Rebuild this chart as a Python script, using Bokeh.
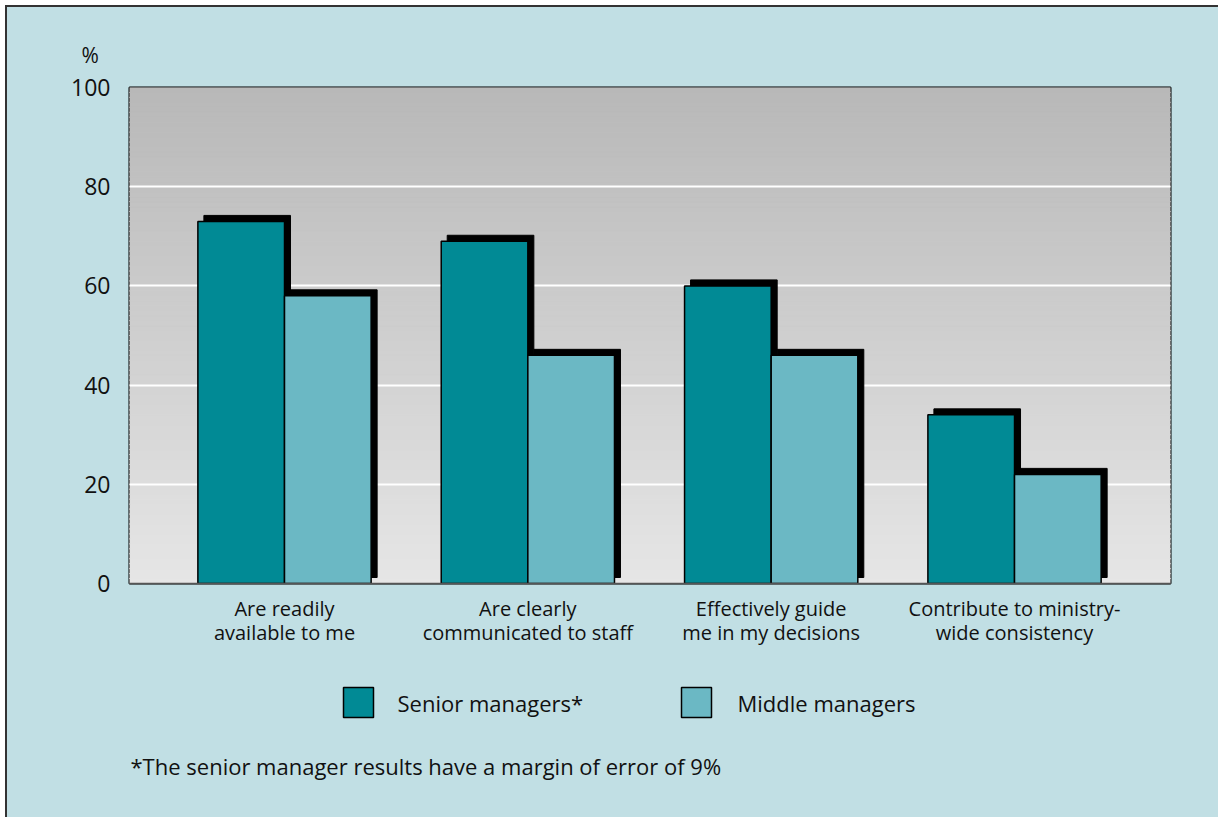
from bokeh.plotting import figure
from bokeh.models import Range1d, Title, FixedTicker
from bokeh.layouts import column
from bokeh.core.properties import value
from bokeh.embed import file_html
from bokeh.resources import INLINE

# ---- data ----
categories = ["Are readily\navailable to me",
              "Are clearly\ncommunicated to staff",
              "Effectively guide\nme in my decisions",
              "Contribute to ministry-\nwide consistency"]
senior = [73, 69, 60, 34]
middle = [58, 46, 46, 22]
y_ticks = [0, 20, 40, 60, 80, 100]
series_names = ["Senior managers*", "Middle managers"]
footnote = "*The senior manager results have a margin of error of 9%"

FONT = "Open Sans"
BG = "#C1DFE4"
C_SENIOR = "#018A95"
C_MIDDLE = "#6BB8C4"
series_colors = [C_SENIOR, C_MIDDLE]
TXT = "#111111"

W = 1211
H_MAIN = 660
H_LEG = 150

p = figure(width=W, height=H_MAIN, output_backend="svg", toolbar_location=None,
           x_range=Range1d(0.363, 4.641), y_range=Range1d(0, 100),
           min_border_left=122, min_border_right=48, min_border_top=80, min_border_bottom=84)
p.border_fill_color = BG
p.background_fill_color = "#E6E6E6"
p.outline_line_color = "black"
p.outline_line_width = 2

# gradient background (decoration)
n = 100
bots = [100 * i / n for i in range(n)]
tops = [100 * (i + 1) / n for i in range(n)]
def lerp(c0, c1, t):
    return "#%02x%02x%02x" % tuple(int(round(a + (b - a) * t)) for a, b in zip(c0, c1))
cols = [lerp((0xE6, 0xE6, 0xE6), (0xB8, 0xB8, 0xB8), (i + 0.5) / n) for i in range(n)]
p.quad(left=0, right=10, bottom=bots, top=tops, fill_color=cols, line_color=cols,
       line_width=1, level="image")

# grid
p.xgrid.visible = False
p.ygrid.ticker = FixedTicker(ticks=[20, 40, 60, 80])
p.ygrid.grid_line_color = "white"
p.ygrid.grid_line_width = 2

# bars
xs = [1, 2, 3, 4]
w = 0.356
off = 0.178
dx = 6 / 243.3
dy = 6 / 4.96
xs_s = [x - off for x in xs]
xs_m = [x + off for x in xs]
for xc, vals in ((xs_s, senior), (xs_m, middle)):
    p.quad(left=[x - w / 2 + dx for x in xc], right=[x + w / 2 + dx for x in xc],
           bottom=dy, top=[v + dy for v in vals], fill_color="black", line_color="black")
p.quad(left=[x - w / 2 for x in xs_s], right=[x + w / 2 for x in xs_s], bottom=0, top=senior,
       fill_color=C_SENIOR, line_color="black", line_width=1.5)
p.quad(left=[x - w / 2 for x in xs_m], right=[x + w / 2 for x in xs_m], bottom=0, top=middle,
       fill_color=C_MIDDLE, line_color="black", line_width=1.5)

# axes
p.yaxis.ticker = FixedTicker(ticks=y_ticks)
p.yaxis.axis_line_color = None
p.yaxis.major_tick_line_color = None
p.yaxis.minor_tick_line_color = None
p.yaxis.major_label_text_font = FONT
p.yaxis.major_label_text_font_size = "23px"
p.yaxis.major_label_text_color = TXT
p.yaxis.major_label_standoff = 13

p.xaxis.ticker = FixedTicker(ticks=xs)
p.xaxis.major_label_overrides = {x: c for x, c in zip(xs, categories)}
p.xaxis.axis_line_color = "#555555"
p.xaxis.axis_line_width = 1.5
p.xaxis.major_tick_line_color = None
p.xaxis.minor_tick_line_color = None
p.xaxis.major_label_text_font = FONT
p.xaxis.major_label_text_font_size = "20px"
p.xaxis.major_label_text_color = TXT
p.xaxis.major_label_text_line_height = 0.92
p.xaxis.major_label_standoff = 5

# "%" unit label above the y axis
p.add_layout(Title(text="%", align="left", offset=-48, standoff=38,
                   text_font=FONT, text_font_size="21px", text_font_style="normal",
                   text_color=TXT), "above")

# ---- legend + footnote panel (frame aligned with the chart's frame) ----
q = figure(width=W, height=H_LEG, output_backend="svg", toolbar_location=None,
           x_range=Range1d(129, 1170), y_range=Range1d(817, 667),
           min_border_left=122, min_border_right=48, min_border_top=0, min_border_bottom=0)
q.axis.visible = False
q.grid.visible = False
q.outline_line_color = None
q.background_fill_alpha = 0
q.border_fill_color = BG

sq_x = [358, 696]
lab_x = [397, 737]
q.rect(x=sq_x, y=702, width=30, height=30, fill_color=series_colors,
       line_color="black", line_width=1.5)
q.text(x=lab_x, y=702, text=series_names, text_font=value(FONT), text_font_size="22px",
       text_baseline="middle", text_align="left", text_color=TXT)
q.text(x=[130], y=[765], text=[footnote], text_font=value(FONT), text_font_size="22px",
       text_baseline="middle", text_align="left", text_color=TXT)

layout = column(p, q, spacing=0)
layout.margin = (5, 0, 0, 5)
layout.styles = {"border-left": "2px solid #333333", "border-top": "2px solid #333333",
                 "background-color": BG}

open("out.html", "w").write(file_html(layout, INLINE))
